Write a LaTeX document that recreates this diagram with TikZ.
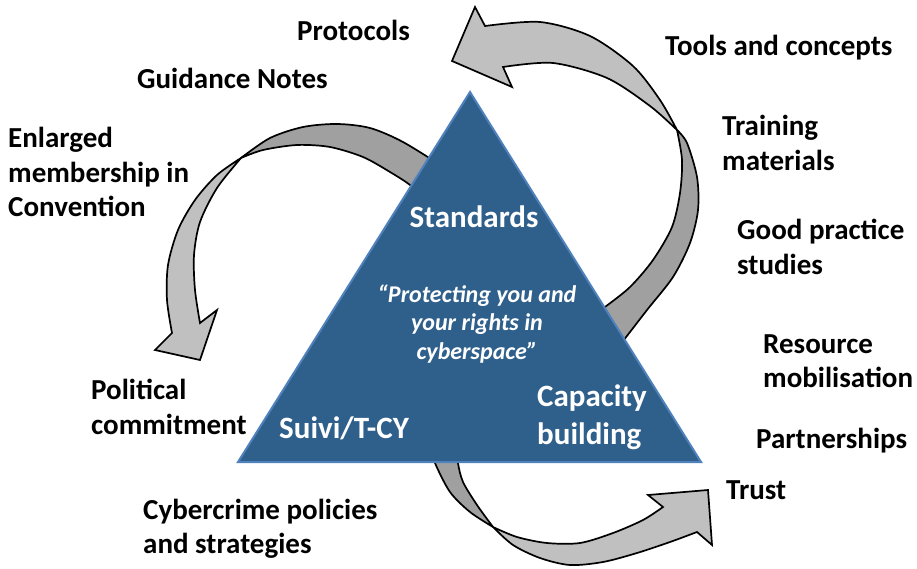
\documentclass[tikz,border=0pt]{standalone}
\usepackage{fontspec}
\setmainfont{Carlito}
\definecolor{tri}{RGB}{47,96,140}
\definecolor{triedge}{RGB}{79,129,189}
\definecolor{backgray}{RGB}{160,160,160}
\definecolor{frontgray}{RGB}{192,192,192}
\begin{document}
\begin{tikzpicture}[x=1pt,y=-1pt,
  lbl/.style={font=\fontsize{29}{34.5}\selectfont\bfseries, inner sep=0pt, align=left, anchor=west},
  wl/.style={text=white, font=\fontsize{31}{38}\selectfont\bfseries, inner sep=0pt, align=left},
  quote/.style={text=white, font=\fontsize{24}{28.5}\selectfont\bfseries\itshape, inner sep=0pt, align=center},
  back/.style={fill=backgray, draw=black, line width=1.7pt, line join=round},
  front/.style={fill=frontgray, draw=black, line width=1.7pt, line join=miter}]
\useasboundingbox (0,0) rectangle (917,569);

% arrow 1 (top right)
\path[back] plot[smooth] coordinates {(677,130) (687,143) (697,177) (698,210) (690,243) (673,277) (647,310) (620,345)}
  -- plot[smooth] coordinates {(590,318) (605,307) (630,287) (653,260) (672,227) (680,193) (682,160) (677,130)} -- cycle;
\path[front] plot[smooth] coordinates {(677,130) (660,100) (633,66) (590,36) (540,22) (485,26)}
  -- (475,7) -- (452,61) -- (512,87)
  -- plot[smooth] coordinates {(503,67) (553,63) (607,78) (650,106) (677,130)} -- cycle;

% arrow 2 (left)
\path[back] plot[smooth] coordinates {(241,158) (270,138) (303,127) (337,124) (370,128) (403,142) (445,168)}
  -- plot[smooth] coordinates {(418,195) (410,185) (390,172) (363,157) (330,147) (297,145) (263,150) (241,158)} -- cycle;
\path[front] plot[smooth] coordinates {(241,158) (217,175) (195,200) (178,230) (168,265) (167,300) (172,333)}
  -- (155,350) -- (200,360) -- (217,310)
  -- plot[smooth] coordinates {(200,323) (195,290) (194,255) (200,222) (217,188) (241,158)} -- cycle;

% arrow 3 (bottom)
\path[back] plot[smooth] coordinates {(433,450) (435,463) (450,492) (470,512) (493,527)}
  -- plot[smooth] coordinates {(493,527) (477,505) (463,482) (458,463) (458,450)} -- cycle;
\path[front] plot[smooth] coordinates {(493,527) (513,545) (540,558) (570,565) (603,562) (637,553) (670,542) (697,532)}
  -- (712,545) -- (708,490) -- (648,495)
  -- plot[smooth] coordinates {(663,507) (643,520) (613,533) (580,543) (547,543) (517,537) (493,527)} -- cycle;

% triangle
\draw[fill=tri, draw=triedge, line width=2pt, line join=miter] (470,92) -- (238,462) -- (701,462) -- cycle;

% triangle texts
\node[wl, anchor=center] (std) at (474,217) {Standards};
\node[quote] (q) at (477,324) {“Protecting you and\\your rights in\\cyberspace”};
\node[wl, anchor=west] (cap) at (537,417) {Capacity\\building};
\node[wl, anchor=west] (suivi) at (279,428) {Suivi/T-CY};

% outer labels
\node[lbl] (prot) at (297,30) {Protocols};
\node[lbl] (guid) at (137,78) {Guidance Notes};
\node[lbl] (enl) at (8,172) {Enlarged\\membership in\\Convention};
\node[lbl] (pol) at (91,407) {Political\\commitment};
\node[lbl] (cyb) at (143,529) {Cybercrime policies\\and strategies};
\node[lbl] (tools) at (665,48) {Tools and concepts};
\node[lbl] (train) at (722,143) {Training\\materials};
\node[lbl] (good) at (737,247) {Good practice\\studies};
\node[lbl] (res) at (763,361) {Resource\\mobilisation};
\node[lbl] (part) at (756,441) {Partnerships};
\node[lbl] (trust) at (726,490) {Trust};
\end{tikzpicture}
\end{document}
